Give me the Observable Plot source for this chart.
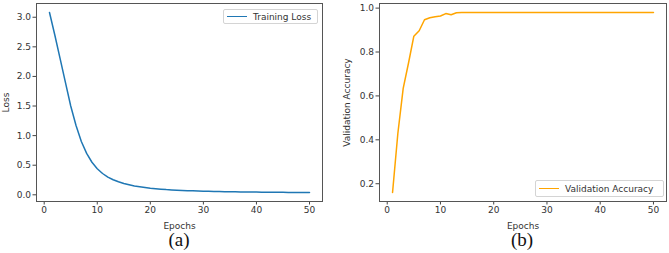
<!DOCTYPE html>
<html>
<head>
<meta charset="utf-8">
<script src="https://cdn.jsdelivr.net/npm/d3@7"></script>
<script src="https://cdn.jsdelivr.net/npm/@observablehq/plot@0.6"></script>
<style>
  body { margin: 0; background: #fff; }
  #row { display: flex; width: 669px; height: 253px; }
  .panel { position: relative; height: 253px; }
  .legend { position: absolute; box-sizing: border-box; border: 1px solid #d4d4d4; border-radius: 2px;
            background: rgba(255,255,255,0.85); font-family: "DejaVu Sans"; font-size: 9px; color: #333;
            display: flex; align-items: center; white-space: nowrap; }
  .legend .sw { display: inline-block; width: 20px; height: 0; border-top: 1.5px solid; margin: 0 6px 0 3px; }
  .cap { position: absolute; transform: translateX(-50%); font-family: "Liberation Serif"; font-size: 19px; color: #111; top: 229px; line-height: 22px; }
</style>
</head>
<body>
<div id="row">
  <div class="panel" id="pa" style="width:334px"></div>
  <div class="panel" id="pb" style="width:335px"></div>
</div>
<script>
const epochs = d3.range(1, 51);
const trainingLoss = [3.08, 2.70, 2.30, 1.90, 1.50, 1.17, 0.90, 0.70, 0.55, 0.44,
  0.36, 0.30, 0.255, 0.22, 0.19, 0.17, 0.15, 0.135, 0.122, 0.11,
  0.102, 0.095, 0.088, 0.083, 0.078, 0.074, 0.070, 0.067, 0.064, 0.061,
  0.059, 0.057, 0.055, 0.053, 0.052, 0.050, 0.049, 0.048, 0.047, 0.046,
  0.045, 0.044, 0.043, 0.042, 0.042, 0.041, 0.040, 0.040, 0.039, 0.039];
const valAccuracy = [0.16, 0.43, 0.634, 0.75, 0.872, 0.897, 0.947, 0.956, 0.961, 0.964,
  0.975, 0.970, 0.979, 0.98, 0.98, 0.98, 0.98, 0.98, 0.98, 0.98,
  0.98, 0.98, 0.98, 0.98, 0.98, 0.98, 0.98, 0.98, 0.98, 0.98,
  0.98, 0.98, 0.98, 0.98, 0.98, 0.98, 0.98, 0.98, 0.98, 0.98,
  0.98, 0.98, 0.98, 0.98, 0.98, 0.98, 0.98, 0.98, 0.98, 0.98];
const xTicks = [0, 10, 20, 30, 40, 50];
const lossTicks = [0, 0.5, 1.0, 1.5, 2.0, 2.5, 3.0];
const accTicks = [0.2, 0.4, 0.6, 0.8, 1.0];

function pad(ext) { const r = ext[1] - ext[0]; return [ext[0] - 0.05 * r, ext[1] + 0.05 * r]; }

function panel(opts) {
  const data = epochs.map((e, i) => ({e, v: opts.values[i]}));
  return Plot.plot({
    width: opts.width, height: 232,
    marginLeft: opts.ml, marginRight: opts.mr, marginTop: 3, marginBottom: 31,
    style: {fontFamily: "DejaVu Sans", fontSize: "9px", color: "#333", background: "transparent"},
    x: {domain: pad(d3.extent(epochs))},
    y: {domain: pad(d3.extent(opts.values))},
    marks: [
      Plot.axisX({ticks: xTicks, tickSize: 3.5, tickPadding: 2, label: "Epochs", labelAnchor: "center", labelArrow: "none", labelOffset: 27, stroke: "#444"}),
      Plot.axisY({ticks: opts.ticks, tickFormat: d3.format(".1f"), tickSize: 3.5, tickPadding: 2, label: opts.ylabel, labelAnchor: "center", labelArrow: "none", labelOffset: opts.lo, stroke: "#444"}),
      Plot.line(data, {x: "e", y: "v", stroke: opts.color, strokeWidth: 1.5}),
      Plot.frame({stroke: "#555", strokeWidth: 1})
    ]
  });
}

const pa = document.getElementById("pa");
pa.appendChild(panel({width: 334, ml: 36, mr: 12, values: trainingLoss, ticks: lossTicks, ylabel: "Loss", color: "#1f77b4", lo: 34}));
const pb = document.getElementById("pb");
pb.appendChild(panel({width: 335, ml: 45, mr: 3, values: valAccuracy, ticks: accTicks, ylabel: "Validation Accuracy", color: "#ffa500", lo: 36}));

function legend(parent, label, color, left, top, w, h) {
  const d = document.createElement("div");
  d.className = "legend";
  d.style.left = left + "px"; d.style.top = top + "px"; d.style.width = w + "px"; d.style.height = h + "px";
  d.innerHTML = `<span class="sw" style="border-color:${color}"></span><span>${label}</span>`;
  parent.appendChild(d);
}
legend(pa, "Training Loss", "#1f77b4", 223, 9, 95, 15);
legend(pb, "Validation Accuracy", "#ffa500", 201, 180, 129, 17);

function caption(parent, text, cx) {
  const c = document.createElement("div");
  c.className = "cap"; c.style.left = cx + "px"; c.textContent = text;
  parent.appendChild(c);
}
caption(pa, "(a)", 179);
caption(pb, "(b)", 188);
</script>
</body>
</html>
